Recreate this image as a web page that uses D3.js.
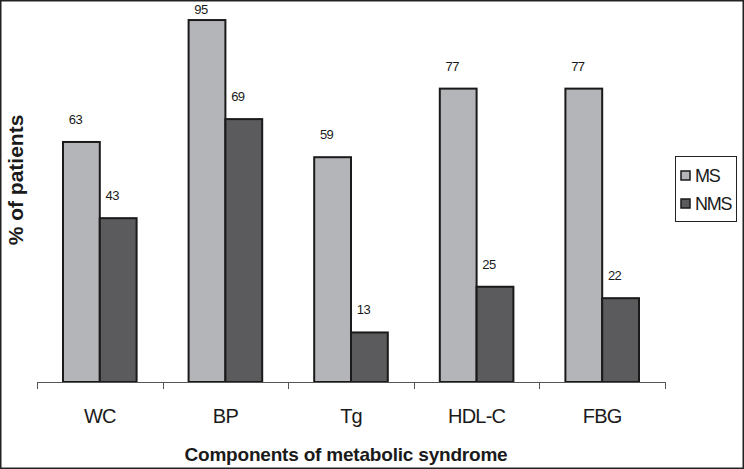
<!DOCTYPE html>
<html>
<head>
  <meta charset="utf8">
  <style type="text/css">
    body { margin: 0; background: #fff; font-family: "Liberation Sans", Arial, sans-serif; }
    text { fill: #1a1a1a; }
  </style>
</head>
<body>
<script src="https://d3js.org/d3.v7.min.js"></script>
<script type="text/javascript">

var categories = ['WC', 'BP', 'Tg', 'HDL-C', 'FBG']
var series = ['MS', 'NMS']
var msValues = [63, 95, 59, 77, 77]
var nmsValues = [43, 69, 13, 25, 22]

var colors = { MS: '#b4b5b9', NMS: '#5b5b5d' }

var width = 744, height = 469
var plot = { left: 37, right: 665, top: 1, bottom: 382 }

var svg = d3.select('body').append('svg')
  .attr('width', width)
  .attr('height', height)

// outer frame
svg.append('rect')
  .attr('x', 0.75).attr('y', 0.75)
  .attr('width', width - 1.5).attr('height', height - 1.5)
  .attr('fill', 'none')
  .attr('stroke', '#222')
  .attr('stroke-width', 1.5)

var x0 = d3.scaleBand()
  .domain(categories)
  .range([plot.left, plot.right])

var x1 = d3.scaleBand()
  .domain(series)
  .range([26, x0.bandwidth() - 26])

var y = d3.scaleLinear()
  .domain([0, 100])
  .range([plot.bottom, plot.top])

var data = categories.map(function(c, i) {
  return { cat: c, vals: [
    { key: 'MS', v: msValues[i] },
    { key: 'NMS', v: nmsValues[i] }
  ] }
})

var groups = svg.append('g').selectAll('g')
  .data(data)
  .enter().append('g')
  .attr('transform', function(d) { return 'translate(' + x0(d.cat) + ',0)' })

groups.selectAll('rect')
  .data(function(d) { return d.vals })
  .enter().append('rect')
  .attr('x', function(d) { return x1(d.key) })
  .attr('y', function(d) { return y(d.v) })
  .attr('width', x1.bandwidth())
  .attr('height', function(d) { return y(0) - y(d.v) })
  .attr('fill', function(d) { return colors[d.key] })
  .attr('stroke', '#1a1a1a')
  .attr('stroke-width', 2)

groups.selectAll('text')
  .data(function(d) { return d.vals })
  .enter().append('text')
  .attr('x', function(d) { return x1(d.key) + x1.bandwidth() / 2 - 6 })
  .attr('y', function(d) { return Math.max(y(d.v) - 18, 14) })
  .attr('text-anchor', 'middle')
  .style('font-size', '13px')
  .style('letter-spacing', '-0.6px')
  .text(function(d) { return d.v })

// x axis with ticks at band boundaries
var axis = svg.append('g')
axis.append('line')
  .attr('x1', plot.left).attr('x2', plot.right)
  .attr('y1', plot.bottom + 0.5).attr('y2', plot.bottom + 0.5)
  .attr('stroke', '#555').attr('stroke-width', 1)

var tickPos = categories.map(function(c) { return x0(c) }).concat([plot.right])
axis.selectAll('.tick')
  .data(tickPos)
  .enter().append('line')
  .attr('x1', function(d) { return Math.round(d) + 0.5 })
  .attr('x2', function(d) { return Math.round(d) + 0.5 })
  .attr('y1', plot.bottom).attr('y2', plot.bottom + 7)
  .attr('stroke', '#555')

axis.selectAll('.cat')
  .data(categories)
  .enter().append('text')
  .attr('x', function(d) { return x0(d) + x0.bandwidth() / 2 })
  .attr('y', 423)
  .attr('text-anchor', 'middle')
  .style('font-size', '20px')
  .style('letter-spacing', '-0.8px')
  .text(function(d) { return d })

svg.append('text')
  .attr('x', 346).attr('y', 461)
  .attr('text-anchor', 'middle')
  .style('font-size', '19px')
  .style('font-weight', 'bold')
  .style('letter-spacing', '-0.2px')
  .text('Components of metabolic syndrome')

svg.append('text')
  .attr('transform', 'translate(23,180) rotate(-90)')
  .attr('text-anchor', 'middle')
  .style('font-size', '21px')
  .style('font-weight', 'bold')
  .text('% of patients')

// legend
var legend = svg.append('g').attr('transform', 'translate(675,156)')
legend.append('rect')
  .attr('x', 0.5).attr('y', 0.5)
  .attr('width', 61).attr('height', 65)
  .attr('fill', '#fff')
  .attr('stroke', '#222')

var item = legend.selectAll('.item')
  .data(series)
  .enter().append('g')
  .attr('transform', function(d, i) { return 'translate(6,' + (15 + i * 28) + ')' })

item.append('rect')
  .attr('width', 9).attr('height', 9)
  .attr('fill', function(d) { return colors[d] })
  .attr('stroke', '#1a1a1a')
  .attr('stroke-width', 1.5)

item.append('text')
  .attr('x', 14).attr('y', 11)
  .style('font-size', '18px')
  .style('letter-spacing', '-1.2px')
  .text(function(d) { return d })

</script>
</body>
</html>
